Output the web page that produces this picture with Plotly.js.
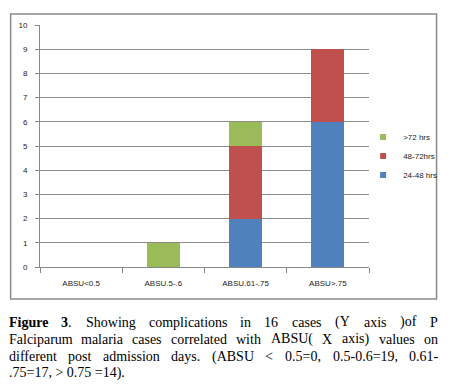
<!DOCTYPE html>
<html><head><meta charset="utf-8">
<script src="https://cdn.plot.ly/plotly-3.0.1.min.js"></script>
<style>body{margin:0;background:#fff}#c{width:454px;height:387px}</style>
</head><body><div id="c"></div>
<script>
const categories = ["ABSU<0.5", "ABSU.5-.6", "ABSU.61-.75", "ABSU>.75"];
const s2448 = [0, 0, 2, 6];
const s4872 = [0, 0, 3, 3];
const s72 = [0, 1, 1, 0];
const seriesNames = ["24-48 hrs", "48-72hrs", ">72 hrs"];
const seriesColors = ["#4F81BD", "#C0504D", "#9BBB59"];
const yTicks = [0,1,2,3,4,5,6,7,8,9,10];
const captionLines = [
  ["<b>Figure</b>", "<b>3</b>.", "Showing", "complications", "in", "16", "cases", "(Y", "axis", ")of", "P"],
  ["Falciparum", "malaria", "cases", "correlated", "with", "ABSU(", "X", "axis)", "values", "on"],
  ["different", "post", "admission", "days.", "(ABSU", "<", "0.5=0,", "0.5-0.6=19,", "0.61-"],
  [".75=17, > 0.75 =14)."]
];

const W=454,H=387,L=40,R=376,T=25,B=267;
const pw=R-L, ph=B-T;
const px2x = p => (p-L)/pw;
const py2y = p => (B-p)/ph;
const FS=14, FF='"Liberation Serif"';

const ctx = document.createElement('canvas').getContext('2d');
function measure(w){
  const m = w.match(/^<b>(.*?)<\/b>(.*)$/);
  let total=0;
  if(m){
    ctx.font='bold '+FS+'px '+FF; total+=ctx.measureText(m[1]).width;
    ctx.font=FS+'px '+FF; total+=ctx.measureText(m[2]).width;
  } else {
    ctx.font=FS+'px '+FF; total=ctx.measureText(w).width;
  }
  return total;
}

function build(){
  const annotations=[];
  const lineY=[322,339,357,373];
  const xLeft=8, xRight=446;
  const cfont={family:'Liberation Serif',size:FS,color:'#000'};
  captionLines.forEach((words,i)=>{
    if(i===captionLines.length-1){
      annotations.push({text:words.join(' '),xref:'paper',yref:'paper',x:px2x(xLeft),y:py2y(lineY[i]),xanchor:'left',yanchor:'middle',showarrow:false,borderpad:0,borderwidth:0,font:cfont});
      return;
    }
    const widths=words.map(measure);
    const sum=widths.reduce((a,b)=>a+b,0);
    const gap=(xRight-xLeft-sum)/(words.length-1);
    let x=xLeft;
    words.forEach((w,j)=>{
      annotations.push({text:w,xref:'paper',yref:'paper',x:px2x(x),y:py2y(lineY[i]),xanchor:'left',yanchor:'middle',showarrow:false,borderpad:0,borderwidth:0,font:cfont});
      x+=widths[j]+gap;
    });
  });

  const sers=[s2448,s4872,s72];
  const traces=sers.map((s,i)=>({type:'bar',name:seriesNames[i],x:categories,y:s,marker:{color:seriesColors[i]},showlegend:false}));
  sers.forEach((s,i)=>traces.push({type:'scatter',mode:'markers',name:seriesNames[i],x:[null],y:[null],marker:{symbol:'square',size:6,color:seriesColors[i]},showlegend:true}));

  const layout={
    width:W,height:H,margin:{l:L,r:W-R,t:T,b:H-B,pad:0},
    paper_bgcolor:'#fff',plot_bgcolor:'#fff',
    barmode:'stack',bargap:0.6,
    font:{family:'Liberation Sans',size:8,color:'#222'},
    xaxis:{type:'category',categoryarray:categories,showgrid:false,showline:true,linecolor:'#888',linewidth:1,ticks:'outside',tickson:'boundaries',ticklen:5,tickcolor:'#888',tickfont:{size:8},ticklabelstandoff:8,fixedrange:true},
    yaxis:{range:[0,10],tickvals:yTicks,showgrid:true,gridcolor:'#8c8c8c',gridwidth:1,showline:true,linecolor:'#888',ticks:'outside',ticklen:4,tickcolor:'#888',zeroline:false,tickfont:{size:8},ticklabelstandoff:6},
    legend:{x:px2x(370),xanchor:'left',y:py2y(156),yanchor:'middle',traceorder:'reversed',font:{size:8,color:'#222'},itemwidth:30,tracegroupgap:0,bgcolor:'rgba(0,0,0,0)'},
    shapes:[{type:'rect',xref:'paper',yref:'paper',x0:px2x(10),x1:px2x(445),y0:py2y(299),y1:py2y(14),line:{color:'#8a8a8a',width:1.5},layer:'below'}],
    annotations:annotations
  };
  Plotly.newPlot('c',traces,layout,{staticPlot:true,displayModeBar:false});
}
Promise.all([
  document.fonts.load(FS+'px '+FF),
  document.fonts.load('bold '+FS+'px '+FF),
  document.fonts.load('8px "Liberation Sans"')
]).then(build, build);
</script></body></html>
